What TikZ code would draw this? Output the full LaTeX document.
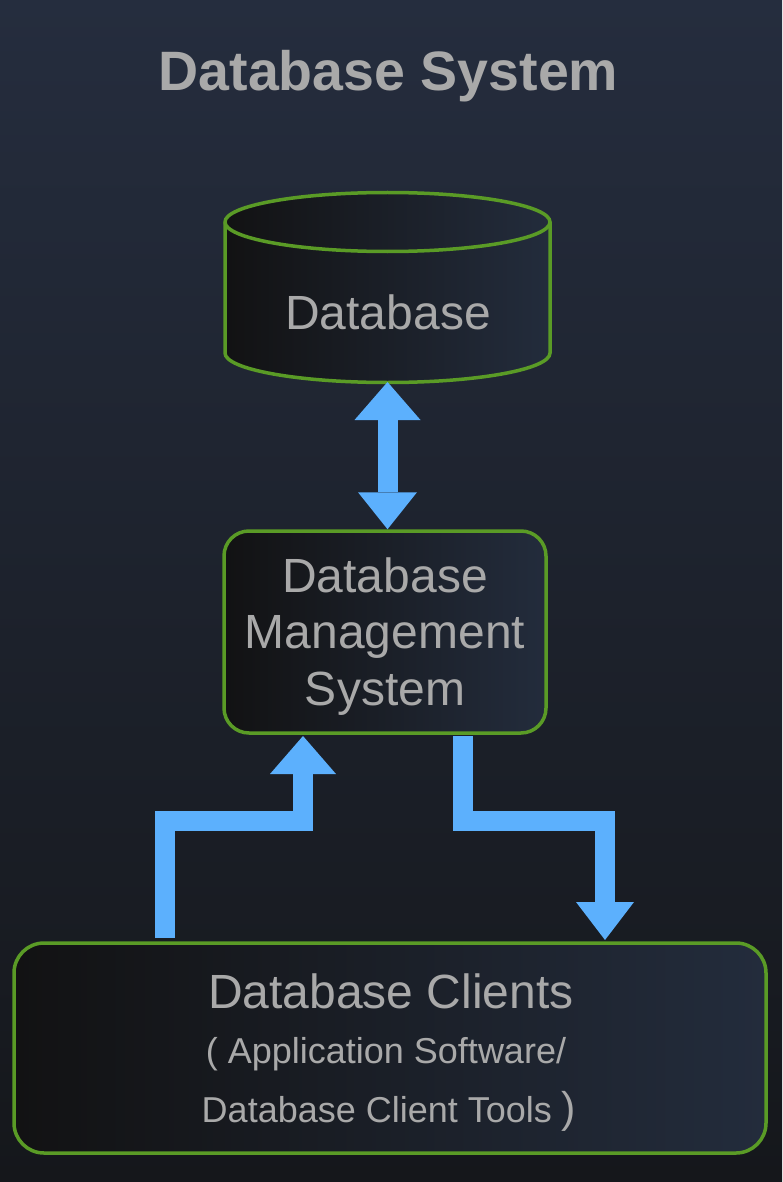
\documentclass[tikz,border=0pt]{standalone}
\usepackage{fontspec}
\setmainfont{Liberation Sans}
\usetikzlibrary{arrows.meta,calc}
\definecolor{bgtop}{RGB}{37,45,62}
\definecolor{bgbot}{RGB}{21,23,27}
\definecolor{boxL}{RGB}{18,18,19}
\definecolor{boxR}{RGB}{35,44,60}
\definecolor{edge}{RGB}{90,155,38}
\definecolor{txt}{RGB}{169,169,169}
\definecolor{flowblue}{RGB}{92,176,253}
\tikzset{
  boxstyle/.style={draw=edge, line width=3.5pt, left color=boxL, right color=boxR, inner sep=0pt},
  label48/.style={text=txt, font=\fontsize{48}{56.5}\selectfont, inner sep=0pt},
  label36/.style={text=txt, font=\fontsize{36}{42}\selectfont, inner sep=0pt, anchor=base},
  flow/.style={draw=flowblue, line width=20pt, line join=miter},
}
\begin{document}
\begin{tikzpicture}[x=1pt,y=-1pt]
\useasboundingbox (0,0) rectangle (782,1182);
\shade[top color=bgtop, bottom color=bgbot] (0,0) rectangle (782,1182);

% title
\node[text=txt, font=\fontsize{55.5}{60}\selectfont\bfseries, anchor=base, inner sep=0pt] (title) at (388.5,91) {Database System};

% cylinder
\path[draw=edge, line width=3.5pt, left color=boxL, right color=boxR]
  (225,222) -- (225,353) arc[start angle=180, end angle=360, x radius=162.5pt, y radius=29.5pt]
  -- (550,222) arc[start angle=0, end angle=180, x radius=162.5pt, y radius=29.5pt] -- cycle;
\draw[edge, line width=3.5pt] (225,222) arc[start angle=180, end angle=360, x radius=162.5pt, y radius=29.5pt];
\node[minimum width=325pt, minimum height=190pt, inner sep=0pt, outer sep=0pt] (dbshape) at (387.5,287) {};
\node[label48, anchor=base] (dbtext) at (388,329) {Database};

% DBMS
\node[boxstyle, rounded corners=25pt, minimum width=322pt, minimum height=202pt, align=center,
      text=txt, font=\fontsize{48}{56.5}\selectfont] (dbms) at (385,632)
  {\rule{0pt}{43pt}Database\\Management\\System};

% clients
\node[boxstyle, rounded corners=30pt, minimum width=752pt, minimum height=210pt] (clients) at (390,1048) {};
\node[label48, anchor=base] (cl1) at (391,1008) {Database Clients};
\node[label36] (cl2) at (386,1063) {( Application Software/};
\node[label36] (cl3) at (389,1122) {Database Client Tools {\fontsize{43}{43}\selectfont )}};

% arrows
\draw[flow, {Triangle[length=38pt 0, width=66pt 0, line width=0pt]}-{Triangle[length=37pt 0, width=59pt 0, line width=0pt]}]
  (dbshape.south) -- (dbshape.south |- dbms.north);

\coordinate (lstart) at (165,938);
\coordinate (lturn) at (303,821);
\coordinate (lend) at (303,736);
\draw[flow, -{Triangle[length=38pt 0, width=66pt 0, line width=0pt]}] (lstart) |- (lturn) -- (lend);

\coordinate (rstart) at (463,736);
\coordinate (rturn) at (605,821);
\coordinate (rend) at (605,940);
\draw[flow, -{Triangle[length=38pt 0, width=58pt 0, line width=0pt]}] (rstart) |- (rturn) -- (rend);
\end{tikzpicture}
\end{document}
